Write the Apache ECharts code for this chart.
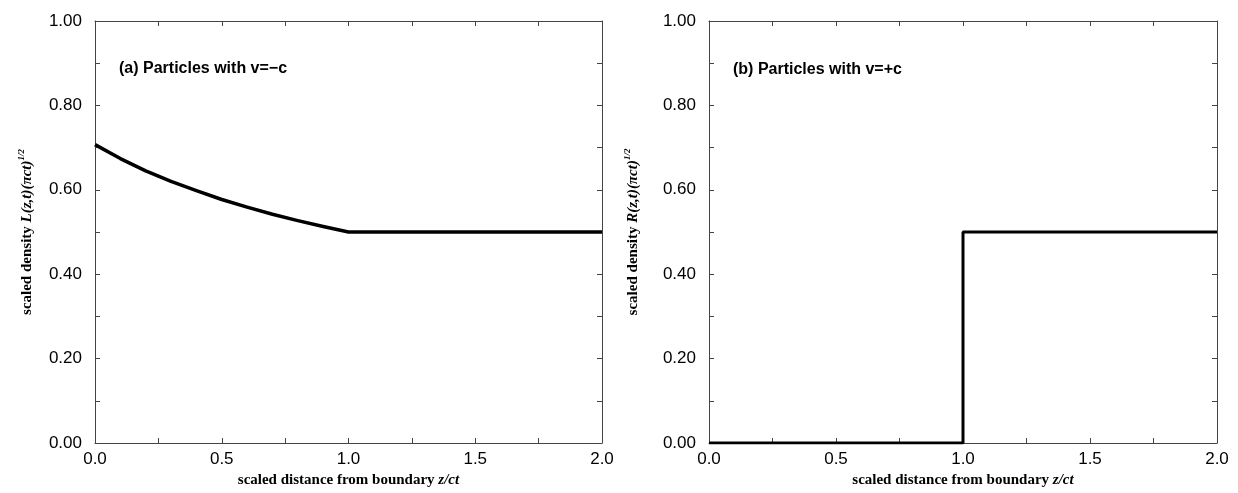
<!DOCTYPE html>
<html>
<head>
<meta charset="utf-8">
<script src="https://cdn.jsdelivr.net/npm/echarts@6/dist/echarts.min.js"></script>
<style>
  html, body { margin: 0; padding: 0; background: #fff; }
  #chart { width: 1238px; height: 493px; }
</style>
</head>
<body>
<div id="chart"></div>
<script>
// panel (a): particles moving with v = -c
var leftZ       = [0, 0.1, 0.2, 0.3, 0.4, 0.5, 0.6, 0.7, 0.8, 0.9, 1.0, 2.0]
var leftDensity = [0.707, 0.674, 0.645, 0.620, 0.598, 0.577, 0.559, 0.542, 0.527, 0.513, 0.500, 0.500]

// panel (b): particles moving with v = +c (step at z/ct = 1)
var rightZ       = [0, 1, 1, 2]
var rightDensity = [0, 0, 0.5, 0.5]

var panelLabels = ['(a) Particles with v=\u2212c', '(b) Particles with v=+c']
var yLetters = ['L', 'R']

var axisColor = '#444'
var sans = 'Liberation Sans'
var serif = 'Liberation Serif'

function pairs(xs, ys) {
  var out = []
  for (var i = 0; i < xs.length; i++) out.push([xs[i], ys[i]])
  return out
}

function xAxisOf(grid, pos) {
  return {
    type: 'value', gridIndex: grid, position: pos,
    min: 0, max: 2, interval: 0.5,
    axisLine: { show: true, onZero: false, lineStyle: { color: axisColor, width: 1 } },
    axisTick: { show: true, inside: true, length: 5, lineStyle: { color: axisColor } },
    minorTick: { show: true, splitNumber: 2, length: 5, lineStyle: { color: axisColor } },
    splitLine: { show: false },
    axisLabel: {
      show: pos === 'bottom', margin: 8, color: '#000',
      fontFamily: sans, fontSize: 17,
      formatter: function (v) { return v.toFixed(1) }
    },
    name: pos === 'bottom' ? '{b|scaled distance from boundary }{bi|z/ct}' : '',
    nameLocation: 'middle', nameGap: 26,
    nameTextStyle: {
      rich: {
        b:  { fontFamily: serif, fontWeight: 'bold', fontSize: 15, color: '#000' },
        bi: { fontFamily: serif, fontWeight: 'bold', fontStyle: 'italic', fontSize: 15, color: '#000' }
      }
    }
  }
}

function yAxisOf(grid, pos, gap) {
  var letter = yLetters[grid]
  return {
    type: 'value', gridIndex: grid, position: pos,
    min: 0, max: 1, interval: 0.2,
    axisLine: { show: true, onZero: false, lineStyle: { color: axisColor, width: 1 } },
    axisTick: { show: true, inside: true, length: 5, lineStyle: { color: axisColor } },
    minorTick: { show: true, splitNumber: 2, length: 5, lineStyle: { color: axisColor } },
    splitLine: { show: false },
    axisLabel: {
      show: pos === 'left', margin: 13, color: '#000',
      fontFamily: sans, fontSize: 17,
      formatter: function (v) { return v.toFixed(2) }
    },
    name: pos === 'left' ? '{b|scaled density }{bi|' + letter + '(z,t)(\u03c0ct)}{sup|1/2}' : '',
    nameLocation: 'middle', nameRotate: 90, nameGap: gap,
    nameTextStyle: {
      rich: {
        b:   { fontFamily: serif, fontWeight: 'bold', fontSize: 15, color: '#000', lineHeight: 20 },
        bi:  { fontFamily: serif, fontWeight: 'bold', fontStyle: 'italic', fontSize: 15, color: '#000', lineHeight: 20 },
        sup: { fontFamily: serif, fontWeight: 'bold', fontStyle: 'italic', fontSize: 9, color: '#000', verticalAlign: 'top', lineHeight: 20, padding: [0, 0, 8, 0] }
      }
    }
  }
}

var chart = echarts.init(document.getElementById('chart'))

var labelStyle = { fontFamily: sans, fontWeight: 'bold', fontSize: 16, color: '#000' }

chart.setOption({
  animation: false,
  backgroundColor: '#fff',
  title: [
    { text: panelLabels[0], left: 119, top: 61, padding: 0, textStyle: labelStyle },
    { text: panelLabels[1], left: 733, top: 62, padding: 0, textStyle: labelStyle }
  ],
  grid: [
    { left: 95, top: 21, width: 507, height: 422 },
    { left: 709, top: 21, width: 508, height: 422 }
  ],
  xAxis: [xAxisOf(0, 'bottom'), xAxisOf(0, 'top'), xAxisOf(1, 'bottom'), xAxisOf(1, 'top')],
  yAxis: [yAxisOf(0, 'left', 58), yAxisOf(0, 'right', 0), yAxisOf(1, 'left', 66), yAxisOf(1, 'right', 0)],
  series: [
    {
      type: 'line', xAxisIndex: 0, yAxisIndex: 0,
      data: pairs(leftZ, leftDensity),
      symbol: 'none',
      lineStyle: { color: '#000', width: 3.5, join: 'round' }
    },
    {
      type: 'line', xAxisIndex: 2, yAxisIndex: 2,
      data: pairs(rightZ, rightDensity),
      symbol: 'none',
      lineStyle: { color: '#000', width: 3 }
    }
  ]
})
</script>
</body>
</html>
